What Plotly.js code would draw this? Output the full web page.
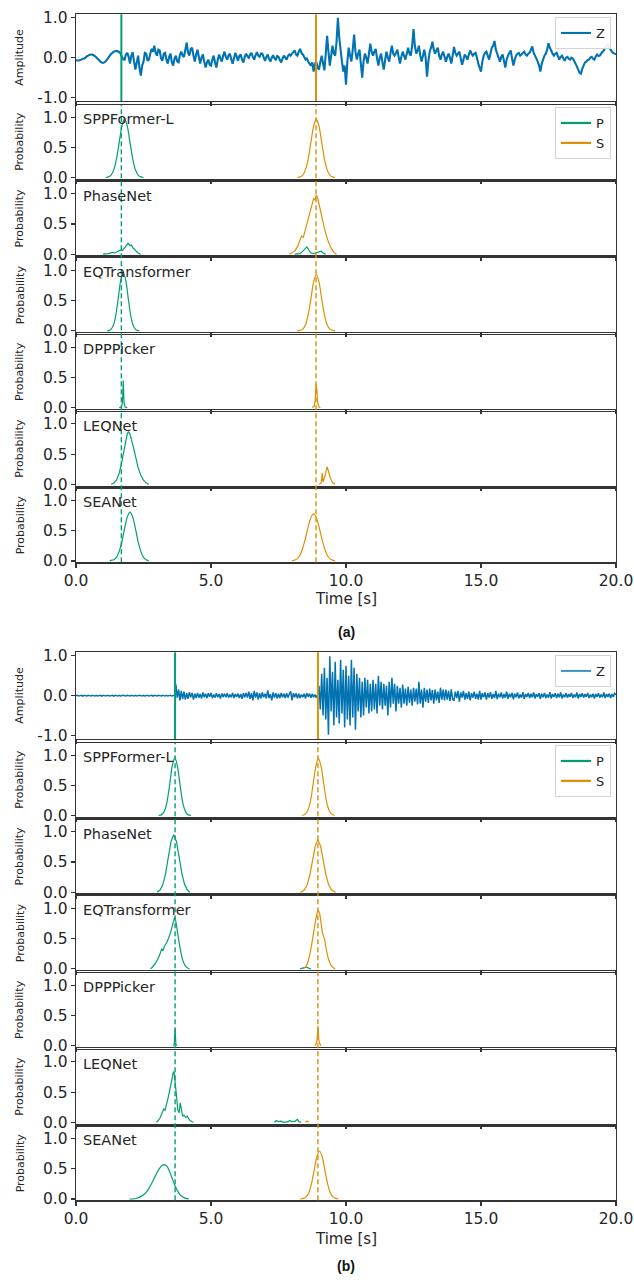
<!DOCTYPE html>
<html><head><meta charset="utf-8">
<script src="https://cdn.plot.ly/plotly-3.0.1.min.js"></script>
<style>html,body{margin:0;padding:0;background:#fff}</style>
</head><body><div id="chart" style="width:634px;height:1280px"></div>
<script>
// ---------------- data ----------------
const MODELS = ['SPPFormer-L','PhaseNet','EQTransformer','DPPPicker','LEQNet','SEANet'];
const PANEL_LABELS = ['(a)','(b)'];
const TIME_TICKS = [0,5,10,15,20];
const TIME_TICK_TEXT = ['0.0','5.0','10.0','15.0','20.0'];
const PROB_TICKS = [0,0.5,1];
const PROB_TICK_TEXT = ['0.0','0.5','1.0'];
const AMP_TICKS = [-1,0,1];
const AMP_TICK_TEXT = ['-1.0','0.0','1.0'];
const P_PICK = [1.68, 3.67];   // panel a, panel b
const S_PICK = [8.89, 8.96];
const DT = 0.05;               // sample spacing of the waveforms (s)

const WAVE_A = [
-0.06,-0.07,-0.07,-0.06,-0.05,-0.03,-0.02,0.00,0.03,0.05,
0.07,0.08,0.08,0.06,0.04,0.01,-0.03,-0.06,-0.10,-0.12,
-0.13,-0.12,-0.09,-0.05,0.00,0.05,0.09,0.12,0.15,0.16,
0.17,0.16,0.14,0.10,0.02,-0.04,-0.05,0.08,0.12,0.02,
-0.15,0.05,0.14,-0.10,-0.30,-0.12,0.05,-0.25,-0.45,-0.20,
-0.10,0.12,0.10,-0.08,-0.05,0.10,0.22,0.15,0.30,0.12,
0.05,0.20,0.18,-0.02,-0.08,0.10,0.12,-0.05,-0.15,0.02,
0.10,-0.12,-0.20,-0.02,0.05,-0.10,-0.12,0.08,0.15,0.05,
0.02,0.20,0.38,0.12,0.05,0.22,0.25,0.05,-0.10,0.08,
0.20,0.02,-0.15,0.00,0.08,-0.10,-0.25,-0.12,-0.05,-0.18,
-0.20,-0.05,0.05,-0.12,-0.25,-0.05,0.08,-0.02,-0.10,0.05,
0.15,0.02,-0.05,0.06,0.10,-0.04,-0.15,-0.02,0.12,0.03,
-0.08,0.04,0.08,-0.05,-0.12,0.02,0.10,0.04,0.00,0.08,
0.12,0.02,-0.05,0.06,0.14,0.05,0.02,0.10,0.10,0.01,
-0.08,0.02,0.08,-0.03,-0.10,0.00,0.06,-0.02,-0.05,0.04,
0.02,-0.06,-0.12,-0.02,0.05,0.00,-0.05,0.04,0.08,0.05,
0.10,0.14,0.18,0.08,0.05,0.15,0.22,0.12,0.08,0.02,
-0.05,-0.02,-0.10,-0.15,-0.20,-0.12,-0.35,-0.15,-0.10,-0.25,
-0.30,-0.10,0.05,-0.15,-0.32,0.10,0.55,0.15,-0.20,0.05,
0.30,0.10,0.05,0.40,1.00,0.50,0.20,-0.10,-0.35,-0.20,
-0.68,-0.10,0.25,0.05,-0.10,0.20,0.58,0.15,-0.05,0.10,
0.20,-0.15,-0.50,-0.10,0.10,0.00,-0.15,0.10,0.35,0.15,
0.05,0.15,0.22,-0.02,-0.20,0.00,0.10,-0.12,-0.30,-0.05,
0.15,0.00,-0.10,0.12,0.30,0.10,0.05,0.12,0.20,0.02,
-0.15,0.02,0.15,0.05,-0.05,0.10,0.25,0.10,0.05,0.30,
0.72,0.30,0.10,0.18,0.30,0.05,-0.10,0.05,0.20,0.00,
-0.48,-0.10,0.15,0.25,0.40,0.20,0.10,0.18,0.25,0.05,
-0.05,0.08,0.15,0.02,-0.10,0.02,0.10,0.00,-0.15,0.05,
0.27,0.12,0.05,0.10,0.15,-0.02,-0.18,-0.05,0.08,0.02,
-0.05,0.08,0.18,0.10,0.05,0.10,0.12,0.00,-0.15,-0.25,
-0.35,-0.10,0.05,0.12,0.15,0.05,-0.05,0.10,0.25,0.30,
0.42,0.20,0.10,0.00,-0.10,0.02,0.08,-0.08,-0.25,-0.05,
0.05,0.12,0.18,-0.02,-0.20,-0.05,0.05,0.10,0.12,0.05,
0.08,0.12,0.15,0.08,0.05,0.10,0.12,0.20,0.28,0.12,
0.05,-0.02,-0.10,-0.20,-0.35,-0.15,-0.05,0.05,0.10,0.20,
0.36,0.25,0.18,0.10,0.05,0.10,0.12,0.04,-0.05,0.02,
0.05,-0.02,-0.08,0.00,0.02,-0.03,-0.05,0.00,-0.02,-0.08,
-0.15,-0.22,-0.30,-0.38,-0.40,-0.28,-0.20,-0.12,-0.10,-0.06,
-0.05,0.00,0.02,-0.03,-0.05,0.03,0.08,0.04,0.05,0.10,
0.15,0.18,0.25,0.30,0.32,0.26,0.20,0.15,0.12,0.10,
0.08];

const WAVE_B = [
0.00,0.01,-0.01,0.00,0.01,-0.01,0.01,0.00,-0.01,0.01,
0.00,-0.01,0.01,0.00,-0.01,0.01,-0.01,0.00,0.01,-0.01,
0.01,0.00,-0.01,0.01,0.00,-0.01,0.00,0.01,-0.01,0.01,
0.00,-0.01,0.01,-0.01,0.00,0.01,0.00,-0.01,0.01,0.00,
-0.01,0.01,0.00,-0.01,0.01,-0.01,0.00,0.01,0.00,-0.01,
0.01,-0.01,0.00,0.01,-0.01,0.00,0.01,-0.01,0.01,0.00,
-0.01,0.01,0.00,-0.01,0.01,0.00,-0.01,0.01,-0.01,0.00,
0.01,-0.01,0.00,0.01,0.28,-0.05,0.15,-0.12,0.12,-0.08,
0.10,-0.10,0.06,-0.08,0.09,-0.04,0.07,-0.10,0.05,-0.06,
0.07,-0.05,0.04,-0.07,0.08,-0.04,0.05,-0.06,0.06,-0.03,
0.07,-0.06,0.03,-0.05,0.06,-0.04,0.04,-0.07,0.05,-0.03,
0.05,-0.04,0.06,-0.05,0.03,-0.04,0.07,-0.06,0.04,-0.03,
0.05,-0.06,0.04,-0.08,0.06,-0.04,0.07,-0.05,0.10,-0.08,
0.06,-0.12,0.12,-0.05,0.08,-0.10,0.06,-0.07,0.08,-0.04,
0.05,-0.07,0.13,-0.06,0.04,-0.12,0.08,-0.05,0.06,-0.07,
0.05,-0.06,0.07,-0.04,0.05,-0.06,0.06,-0.05,0.04,0.11,
-0.12,0.06,-0.04,0.06,-0.07,0.05,-0.06,0.03,-0.04,0.05,
-0.07,0.06,-0.03,0.05,-0.05,0.04,-0.04,0.03,-0.05,0.02,
0.25,-0.35,0.55,-0.50,0.70,-0.60,0.45,-0.98,0.99,-0.40,
0.60,-0.75,0.85,-0.55,0.40,-0.70,0.90,-0.45,0.65,-0.80,
0.75,-0.60,0.50,-0.75,0.90,-0.55,0.70,-0.86,0.55,-0.40,
0.45,-0.55,0.35,-0.50,0.45,-0.30,0.40,-0.45,0.30,-0.40,
0.40,-0.35,0.30,-0.45,0.50,-0.25,0.35,-0.35,0.30,-0.25,
0.25,-0.50,0.35,-0.30,0.45,-0.20,0.30,-0.40,0.25,-0.20,
0.20,-0.30,0.28,-0.20,0.18,-0.25,0.22,-0.18,0.15,-0.25,
0.20,-0.15,0.18,-0.22,0.35,-0.20,0.15,-0.30,0.20,-0.15,
0.15,-0.18,0.18,-0.12,0.14,-0.20,0.15,-0.12,0.10,-0.18,
0.20,-0.10,0.15,-0.12,0.15,-0.10,0.12,-0.14,0.16,-0.10,
-0.12,0.10,-0.06,0.12,-0.15,0.08,-0.05,0.12,-0.10,0.06,
-0.08,0.10,-0.12,0.06,-0.05,0.10,-0.08,0.05,-0.10,0.12,
-0.10,0.06,-0.04,0.08,-0.10,0.06,-0.05,0.09,-0.08,0.04,
-0.06,0.12,-0.09,0.05,-0.04,0.08,-0.07,0.04,-0.05,0.10,
-0.08,0.05,-0.04,0.07,-0.09,0.05,-0.04,0.08,-0.07,0.03,
-0.05,0.09,-0.08,0.04,-0.03,0.07,-0.06,0.05,-0.04,0.08,
-0.07,0.04,-0.03,0.06,-0.08,0.05,-0.04,0.07,-0.06,0.03,
-0.05,0.09,-0.07,0.04,-0.03,0.06,-0.06,0.05,-0.04,0.08,
-0.07,0.03,-0.04,0.06,-0.05,0.04,-0.03,0.07,-0.06,0.03,
-0.04,0.08,-0.07,0.04,-0.03,0.06,-0.05,0.04,-0.03,0.07,
-0.06,0.03,-0.04,0.05,-0.07,0.04,-0.03,0.06,-0.05,0.03,
-0.04,0.08,-0.06,0.04,-0.03,0.05,-0.06,0.04,-0.03,0.06,
0.02];

// probability curves: [time, probability]
const A_SPP_P = [[1.1,0],[1.2,0.01],[1.3,0.04],[1.4,0.13],[1.5,0.31],[1.6,0.58],[1.7,0.85],[1.8,0.97],[1.9,0.85],[2.0,0.58],[2.1,0.31],[2.2,0.13],[2.3,0.04],[2.4,0.01],[2.5,0]];
const A_SPP_S = [[8.2,0],[8.3,0.01],[8.4,0.04],[8.5,0.13],[8.6,0.31],[8.7,0.58],[8.8,0.85],[8.9,0.97],[9.0,0.85],[9.1,0.58],[9.2,0.31],[9.3,0.13],[9.4,0.04],[9.5,0.01],[9.6,0]];
const A_PN_P = [[1.0,0],[1.2,0.01],[1.35,0.03],[1.45,0.02],[1.55,0.05],[1.65,0.07],[1.72,0.06],[1.8,0.11],[1.87,0.16],[1.93,0.18],[2.0,0.14],[2.05,0.15],[2.12,0.1],[2.2,0.06],[2.3,0.02],[2.4,0],[null,null],[8.1,0],[8.3,0.01],[8.4,0.05],[8.5,0.1],[8.55,0.12],[8.62,0.07],[8.7,0.02],[8.8,0.01],[8.9,0.02],[9.0,0.04],[9.08,0.05],[9.15,0.02],[9.25,0]];
const A_PN_S = [[7.9,0],[8.0,0.02],[8.1,0.05],[8.2,0.12],[8.28,0.2],[8.35,0.3],[8.42,0.28],[8.5,0.42],[8.57,0.55],[8.63,0.62],[8.7,0.78],[8.75,0.85],[8.8,0.92],[8.85,0.9],[8.9,0.98],[8.95,0.93],[9.0,0.82],[9.05,0.75],[9.12,0.6],[9.2,0.43],[9.28,0.3],[9.35,0.2],[9.45,0.1],[9.55,0.03],[9.65,0]];
const A_EQT_P = [[1.15,0],[1.25,0.01],[1.35,0.06],[1.45,0.2],[1.55,0.49],[1.65,0.82],[1.75,0.97],[1.85,0.82],[1.95,0.49],[2.05,0.2],[2.15,0.06],[2.25,0.01],[2.35,0]];
const A_EQT_S = [[8.2,0],[8.3,0.01],[8.4,0.03],[8.5,0.1],[8.6,0.27],[8.7,0.53],[8.8,0.81],[8.9,0.93],[9.0,0.81],[9.1,0.53],[9.2,0.27],[9.3,0.1],[9.4,0.03],[9.5,0.01],[9.6,0]];
const A_DPP_P = [[1.6,0],[1.68,0.01],[1.72,0.08],[1.75,0.45],[1.78,0.08],[1.82,0.01],[1.9,0]];
const A_DPP_S = [[8.75,0],[8.82,0.02],[8.86,0.12],[8.89,0.38],[8.92,0.3],[8.95,0.08],[9.0,0.01],[9.05,0]];
const A_LEQ_P = [[1.3,0],[1.4,0.02],[1.5,0.07],[1.6,0.18],[1.7,0.38],[1.8,0.64],[1.9,0.84],[1.95,0.87],[2.0,0.83],[2.1,0.66],[2.2,0.46],[2.3,0.28],[2.4,0.15],[2.5,0.07],[2.6,0.02],[2.7,0]];
const A_LEQ_S = [[9.0,0],[9.08,0.02],[9.12,0.19],[9.15,0.04],[9.2,0.1],[9.25,0.21],[9.3,0.29],[9.35,0.22],[9.42,0.1],[9.5,0.03],[9.6,0]];
const A_SEA_P = [[1.25,0],[1.3,0.01],[1.4,0.02],[1.5,0.06],[1.6,0.16],[1.7,0.32],[1.8,0.54],[1.9,0.73],[2.0,0.81],[2.1,0.73],[2.2,0.54],[2.3,0.32],[2.4,0.16],[2.5,0.06],[2.6,0.02],[2.7,0]];
const A_SEA_S = [[8.0,0],[8.1,0.015],[8.2,0.04],[8.3,0.1],[8.4,0.22],[8.5,0.38],[8.6,0.57],[8.7,0.72],[8.8,0.78],[8.9,0.72],[9.0,0.57],[9.1,0.38],[9.2,0.22],[9.3,0.1],[9.4,0.04],[9.5,0.015],[9.6,0]];

const B_SPP_P = [[3.06,0],[3.16,0.01],[3.26,0.06],[3.36,0.2],[3.46,0.48],[3.56,0.81],[3.66,0.96],[3.76,0.81],[3.86,0.48],[3.96,0.2],[4.06,0.06],[4.16,0.01],[4.26,0]];
const B_SPP_S = [[8.38,0],[8.48,0.02],[8.58,0.08],[8.68,0.23],[8.78,0.51],[8.88,0.81],[8.98,0.94],[9.08,0.81],[9.18,0.51],[9.28,0.23],[9.38,0.08],[9.48,0.02],[9.58,0]];
const B_PN_P = [[3.0,0],[3.12,0.04],[3.22,0.13],[3.32,0.31],[3.42,0.58],[3.52,0.84],[3.62,0.95],[3.72,0.84],[3.82,0.58],[3.92,0.31],[4.02,0.13],[4.12,0.04],[4.22,0]];
const B_PN_S = [[8.3,0],[8.36,0.01],[8.46,0.04],[8.56,0.12],[8.66,0.28],[8.76,0.52],[8.86,0.76],[8.96,0.87],[9.06,0.76],[9.16,0.52],[9.26,0.28],[9.36,0.12],[9.46,0.04],[9.56,0.01],[9.62,0]];
const B_EQT_P = [[2.76,0],[2.85,0.04],[2.95,0.1],[3.05,0.18],[3.12,0.26],[3.18,0.33],[3.22,0.3],[3.27,0.37],[3.35,0.43],[3.42,0.5],[3.5,0.6],[3.57,0.72],[3.62,0.8],[3.66,0.85],[3.7,0.78],[3.78,0.55],[3.86,0.33],[3.95,0.15],[4.05,0.05],[4.15,0.01],[4.2,0],[null,null],[8.3,0],[8.45,0.02],[8.55,0.03],[8.62,0.01],[8.7,0]];
const B_EQT_S = [[8.4,0],[8.48,0.02],[8.56,0.08],[8.64,0.2],[8.72,0.38],[8.8,0.6],[8.88,0.82],[8.94,0.93],[8.98,0.96],[9.03,0.9],[9.08,0.75],[9.12,0.62],[9.16,0.55],[9.2,0.5],[9.26,0.35],[9.34,0.18],[9.42,0.08],[9.5,0.03],[9.6,0]];
const B_DPP_P = [[3.6,0],[3.64,0.02],[3.67,0.28],[3.7,0.02],[3.74,0]];
const B_DPP_S = [[8.85,0],[8.9,0.04],[8.93,0.1],[8.96,0.33],[8.99,0.1],[9.02,0.04],[9.07,0]];
const B_LEQ_P = [[2.98,0],[3.05,0.03],[3.12,0.08],[3.18,0.15],[3.25,0.22],[3.3,0.2],[3.36,0.3],[3.42,0.42],[3.48,0.55],[3.54,0.7],[3.6,0.82],[3.63,0.84],[3.67,0.7],[3.72,0.45],[3.77,0.2],[3.82,0.16],[3.86,0.32],[3.9,0.2],[3.95,0.1],[4.0,0.12],[4.06,0.08],[4.12,0.1],[4.2,0.04],[4.3,0.01],[4.35,0],[null,null],[7.35,0],[7.42,0.03],[7.5,0.01],[7.58,0.02],[7.7,0],[7.85,0.01],[7.92,0.03],[8.0,0.01],[8.12,0.02],[8.2,0.05],[8.26,0.01],[8.34,0]];
const B_LEQ_S = [[8.5,0],[8.56,0.02],[8.62,0]];
const B_SEA_P = [[1.98,0],[2.18,0.004],[2.28,0.018],[2.38,0.035],[2.48,0.062],[2.58,0.1],[2.68,0.16],[2.78,0.24],[2.88,0.33],[2.98,0.42],[3.08,0.5],[3.18,0.55],[3.28,0.57],[3.38,0.535],[3.48,0.44],[3.58,0.32],[3.68,0.205],[3.78,0.117],[3.88,0.057],[3.98,0.025],[4.08,0.01],[4.18,0]];
const B_SEA_S = [[8.3,0],[8.42,0.01],[8.52,0.035],[8.62,0.1],[8.72,0.25],[8.82,0.47],[8.92,0.7],[9.02,0.79],[9.12,0.7],[9.22,0.47],[9.32,0.25],[9.42,0.1],[9.52,0.035],[9.62,0.01],[9.72,0]];

const WAVES = [WAVE_A, WAVE_B];
const PROB_P = [[A_SPP_P,A_PN_P,A_EQT_P,A_DPP_P,A_LEQ_P,A_SEA_P],[B_SPP_P,B_PN_P,B_EQT_P,B_DPP_P,B_LEQ_P,B_SEA_P]];
const PROB_S = [[A_SPP_S,A_PN_S,A_EQT_S,A_DPP_S,A_LEQ_S,A_SEA_S],[B_SPP_S,B_PN_S,B_EQT_S,B_DPP_S,B_LEQ_S,B_SEA_S]];

// ---------------- style / layout ----------------
const W = 634, H = 1280;
const X0 = 76, X1 = 616;
const AMP_TOP = 14.3, AMP_BOT = 101, PROB_TOP0 = 105, PROB_PITCH = 76.7, PROB_H = 73.7, PANEL_OFF = 638;
const C_Z = '#0173B2', C_P = '#029E73', C_S = '#DE8F05';
const FONT = 'DejaVu Sans';
const TXT = '#262626', AX = '#333333';
const SHAPE_BY_MODEL = ['spline','linear','spline','linear','linear','spline'];
const WAVE_WIDTH = [2.1, 1.5];

function yd(top, bot){ return [1 - bot/H, 1 - top/H]; }
function boxOf(p, s){
  const off = p*PANEL_OFF;
  if (s === 0) return [AMP_TOP+off, AMP_BOT+off];
  const t = PROB_TOP0 + (s-1)*PROB_PITCH + off;
  return [t, t + PROB_H];
}

const data = [], layout = {
  width: W, height: H, margin: {l:0, r:0, t:0, b:0},
  paper_bgcolor: '#fff', plot_bgcolor: '#fff',
  font: {family: FONT, color: TXT}, showlegend: true,
  annotations: [], shapes: []
};

for (let p = 0; p < 2; p++){
  for (let s = 0; s < 7; s++){
    const idx = p*7 + s + 1;
    const [top, bot] = boxOf(p, s);
    const last = (s === 6);
    layout['xaxis'+idx] = {
      domain: [X0/W, X1/W], range: [0, 20], anchor: 'y'+idx,
      tickmode: 'array', tickvals: TIME_TICKS, ticktext: TIME_TICK_TEXT,
      showticklabels: last, ticks: 'outside', ticklen: 4, tickwidth: 1.1, tickcolor: AX,
      showline: true, linecolor: AX, linewidth: 1.3, mirror: true,
      showgrid: false, zeroline: false, tickfont: {size: 15.5, family: FONT, color: TXT}
    };
    layout['yaxis'+idx] = {
      domain: yd(top, bot), anchor: 'x'+idx,
      range: s === 0 ? [-1.09, 1.09] : [-0.02, 1.2],
      tickmode: 'array',
      tickvals: s === 0 ? AMP_TICKS : PROB_TICKS,
      ticktext: s === 0 ? AMP_TICK_TEXT : PROB_TICK_TEXT,
      ticks: 'outside', ticklen: 4, tickwidth: 1.1, tickcolor: AX,
      showline: true, linecolor: AX, linewidth: 1.3, mirror: true,
      showgrid: false, zeroline: false, tickfont: {size: 15.5, family: FONT, color: TXT}
    };
    layout.annotations.push({
      text: s === 0 ? 'Amplitude' : 'Probability', textangle: -90,
      xref: 'paper', x: 20/W, xanchor: 'center',
      yref: 'y'+idx+' domain', y: 0.5, yanchor: 'middle',
      showarrow: false, font: {size: 11, family: FONT, color: TXT}
    });
    if (s === 0){
      const w = WAVES[p];
      data.push({
        type: 'scatter', mode: 'lines', name: 'Z',
        x: w.map((_, i) => +(i*DT).toFixed(2)), y: w,
        xaxis: 'x'+idx, yaxis: 'y'+idx,
        line: {color: C_Z, width: WAVE_WIDTH[p], simplify: false},
        legend: p === 0 ? 'legend' : 'legend3', showlegend: true
      });
      layout.shapes.push({type:'line', xref:'x'+idx, yref:'y'+idx+' domain', x0:P_PICK[p], x1:P_PICK[p], y0:0, y1:1, line:{color:C_P, width:2}});
      layout.shapes.push({type:'line', xref:'x'+idx, yref:'y'+idx+' domain', x0:S_PICK[p], x1:S_PICK[p], y0:0, y1:1, line:{color:C_S, width:2}});
    } else {
      const m = s - 1;
      const shp = SHAPE_BY_MODEL[m];
      const pp = PROB_P[p][m], ss = PROB_S[p][m];
      data.push({type:'scatter', mode:'lines', x: pp.map(d=>d[0]), y: pp.map(d=>d[1]),
        xaxis:'x'+idx, yaxis:'y'+idx, line:{color:C_P, width:1.2, shape:shp, smoothing:0.7}, showlegend:false});
      data.push({type:'scatter', mode:'lines', x: ss.map(d=>d[0]), y: ss.map(d=>d[1]),
        xaxis:'x'+idx, yaxis:'y'+idx, line:{color:C_S, width:1.2, shape:shp, smoothing:0.7}, showlegend:false});
      layout.annotations.push({
        text: MODELS[m], xref:'paper', x: 81/W, xanchor:'left',
        yref:'y'+idx, y: 0.97, yanchor:'middle', showarrow:false,
        font:{size:14.5, family:FONT, color:TXT}
      });
    }
  }
  const lg = p === 0 ? 'legend2' : 'legend4';
  data.push({type:'scatter', mode:'lines', name:'P', x:[null], y:[null], xaxis:'x'+(p*7+2), yaxis:'y'+(p*7+2), line:{color:C_P, width:2.2}, legend:lg});
  data.push({type:'scatter', mode:'lines', name:'S', x:[null], y:[null], xaxis:'x'+(p*7+2), yaxis:'y'+(p*7+2), line:{color:C_S, width:2.2}, legend:lg});

  const sppTop = boxOf(p,1)[0], seaBot = boxOf(p,6)[1];
  [[P_PICK[p], C_P],[S_PICK[p], C_S]].forEach(([t,c]) => {
    layout.shapes.push({type:'line', xref:'x'+(p*7+2), yref:'paper', x0:t, x1:t,
      y0: 1 - seaBot/H, y1: 1 - sppTop/H, line:{color:c, width:1.4, dash:'5px,3px'}});
  });

  const off = p*PANEL_OFF;
  layout.annotations.push({text:'Time [s]', xref:'paper', x:(X0+X1)/2/W, xanchor:'center',
    yref:'paper', y: 1 - (599 + (p ? 640 : 0))/H, yanchor:'middle', showarrow:false,
    font:{size:15, family:FONT, color:TXT}});
  layout.annotations.push({text:'<b>'+PANEL_LABELS[p]+'</b>', xref:'paper', x:(X0+X1)/2/W, xanchor:'center',
    yref:'paper', y: 1 - (632 + (p ? 634 : 0))/H, yanchor:'middle', showarrow:false,
    font:{size:14, family:'Liberation Sans', color:'#111'}});

  const legBase = {xanchor:'right', yanchor:'top', bgcolor:'rgba(255,255,255,0.9)',
    bordercolor:'#d3d3d3', borderwidth:1, font:{size:13, family:FONT, color:TXT},
    itemwidth:30, tracegroupgap:0};
  layout[p === 0 ? 'legend' : 'legend3'] = Object.assign({}, legBase, {x: 611/W, y: 1 - (17+off)/H});
  layout[p === 0 ? 'legend2' : 'legend4'] = Object.assign({}, legBase, {x: 611/W, y: 1 - (107+off)/H});
}

Plotly.newPlot('chart', data, layout, {staticPlot: true, displayModeBar: false});
</script>
</body></html>
